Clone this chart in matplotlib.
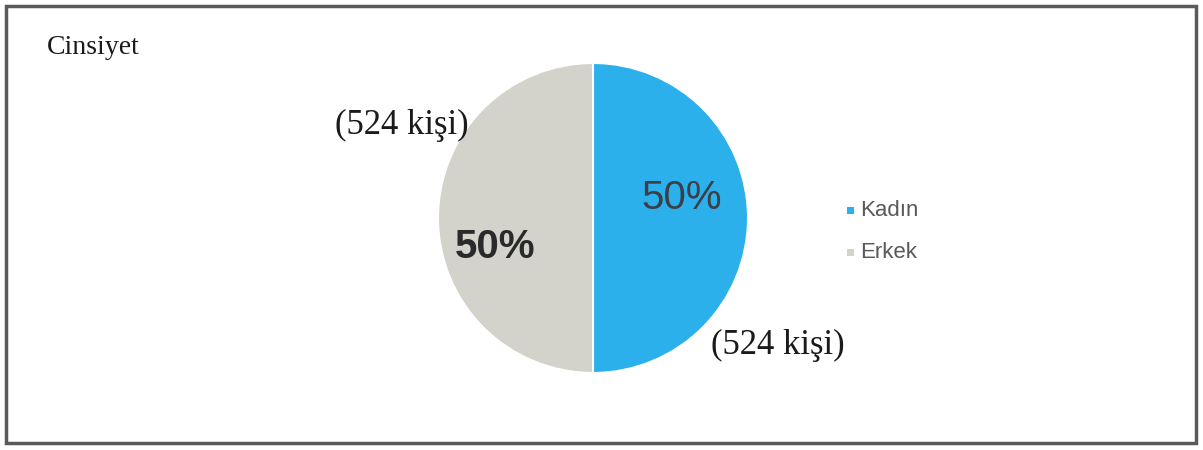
import matplotlib.pyplot as plt
from matplotlib.patches import Rectangle

# Data
categories = ['Kadın', 'Erkek']
counts = [524, 524]
colors = ['#2BB0EC', '#D3D3CC']
title = 'Cinsiyet'

W, H = 1203, 450
fig = plt.figure(figsize=(W / 100, H / 100), dpi=100)
fig.patch.set_facecolor('white')

def fx(px):
    return px / W

def fy(py):
    return 1 - py / H

# outer frame
fig.add_artist(Rectangle((fx(6), fy(443)), fx(1190), 437 / H, transform=fig.transFigure,
                         fill=False, edgecolor='#5a5a5a', linewidth=2.5))

# pie axes: centre (593, 218), radius 155 px
cx, cy, r = 593, 218, 155
ax = fig.add_axes([fx(cx - r), fy(cy + r), 2 * r / W, 2 * r / H])
wedges, _ = ax.pie(counts, colors=colors, startangle=90, counterclock=False,
                   wedgeprops=dict(edgecolor='white', linewidth=1.5))
ax.set_aspect('auto')
ax.set_xlim(-1, 1)
ax.set_ylim(-1, 1)
ax.axis('off')

# percentage labels
total = sum(counts)
pct = [f'{round(c / total * 100)}%' for c in counts]
ax.text(0.57, 0.13, pct[0], ha='center', va='center', fontsize=29,
        color='#3a3f48', family='Liberation Sans')
ax.text(-0.63, -0.19, pct[1], ha='center', va='center', fontsize=29,
        color='#2a2a2a', family='Liberation Sans', fontweight='bold')

# count labels
serif = 'Liberation Serif'
fig.text(fx(402), fy(125), f'({counts[1]} kişi)', ha='center', va='center',
         fontsize=25, family=serif, color='#1a1a1a')
fig.text(fx(778), fy(345), f'({counts[0]} kişi)', ha='center', va='center',
         fontsize=25, family=serif, color='#1a1a1a')

# title
fig.text(fx(47), fy(48), title, ha='left', va='center', fontsize=20,
         family=serif, color='#1a1a1a')

# legend
leg_y = [210, 252]
for cat, col, y in zip(categories, colors, leg_y):
    fig.add_artist(Rectangle((fx(847), fy(y + 3.5)), 7 / W, 7 / H,
                             transform=fig.transFigure, facecolor=col,
                             edgecolor='none'))
    fig.text(fx(860), fy(y), cat, ha='left', va='center', fontsize=16,
             family='Liberation Sans', color='#595959')

plt.savefig('out.png', dpi=100)
